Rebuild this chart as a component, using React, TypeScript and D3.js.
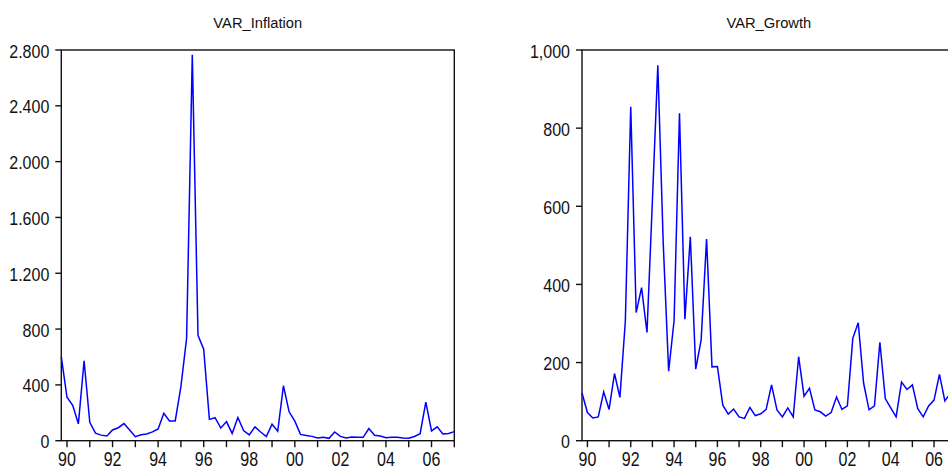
import * as d3 from "d3";
import * as React from "react";

// quarterly series, first observation 1989Q4
const startYear = 1989;
const startQuarter = 4;

const inflation = [
  600, 311, 253, 121, 573, 132, 54, 40, 34, 77, 93, 123, 76, 29, 43, 48, 63,
  84, 196, 142, 142, 387, 734, 2765, 755, 656, 153, 165, 91, 137, 52, 166, 73,
  42, 99, 62, 29, 118, 68, 394, 207, 140, 45, 38, 31, 19, 25, 17, 63, 31, 19,
  26, 24, 24, 87, 39, 33, 21, 24, 24, 19, 17, 30, 50, 277, 70, 99, 49, 52, 65,
];

const growth = [
  122, 72, 58, 61, 125, 80, 172, 111, 305, 855, 328, 392, 277, 615, 961, 505,
  178, 307, 838, 311, 522, 183, 258, 516, 189, 190, 91, 68, 81, 61, 57, 85, 64,
  69, 80, 143, 79, 61, 84, 61, 215, 114, 134, 79, 74, 63, 72, 112, 80, 89, 262,
  302, 147, 79, 89, 252, 108, 84, 61, 150, 131, 143, 82, 61, 89, 104, 170, 102,
  121, 110,
];

const yearTicks = d3.range(1990, 2008);
const inflationTicks = [0, 400, 800, 1200, 1600, 2000, 2400, 2800];
const growthTicks = [0, 200, 400, 600, 800, 1000];

const dotFormat = d3
  .formatLocale({ decimal: ",", thousands: ".", grouping: [3], currency: ["", ""] })
  .format(",");
const commaFormat = d3.format(",");

const font = "'Liberation Sans', Arial, Helvetica, sans-serif";

const quarterIndex = (year: number) =>
  (year - startYear) * 4 + (1 - startQuarter);

type PanelProps = {
  title: string;
  data: number[];
  yTicks: number[];
  format: (n: number) => string;
  left: number;
  right: number;
};

function Panel({ title, data, yTicks, format, left, right }: PanelProps) {
  const top = 50,
    bottom = 440.7;

  const x = d3
    .scaleLinear()
    .domain([0, data.length - 1])
    .range([left, right]);
  const y = d3
    .scaleLinear()
    .domain([0, yTicks[yTicks.length - 1]])
    .range([bottom, top]);

  const line = d3
    .line<number>()
    .x((d, i) => x(i))
    .y((d) => y(d));

  return (
    <g fontFamily={font} fill="#111">
      <text
        transform={`translate(${(left + right) / 2},27.7) scale(0.95,1)`}
        fontSize={15.5}
        textAnchor="middle"
      >
        {title}
      </text>
      <rect
        x={left}
        y={top}
        width={right - left}
        height={bottom - top}
        fill="none"
        stroke="#111"
        strokeWidth={1.4}
      />
      {yTicks.map((t) => (
        <g key={t}>
          <line
            x1={left - 6}
            x2={left}
            y1={y(t)}
            y2={y(t)}
            stroke="#111"
            strokeWidth={1.4}
          />
          <text
            transform={`translate(${left - 12},${y(t) + 7.6}) scale(0.915,1)`}
            fontSize={17.5}
            textAnchor="end"
          >
            {format(t)}
          </text>
        </g>
      ))}
      {yearTicks.map((yr) => {
        const xi = x(quarterIndex(yr));
        return (
          <g key={yr}>
            <line
              x1={xi}
              x2={xi}
              y1={bottom}
              y2={bottom + 6.5}
              stroke="#111"
              strokeWidth={1.4}
            />
            {yr % 2 === 0 && (
              <text
                transform={`translate(${xi},465.6) scale(0.8,1)`}
                fontSize={20}
                textAnchor="middle"
              >
                {String(yr).slice(2)}
              </text>
            )}
          </g>
        );
      })}
      <path
        d={line(data) || ""}
        fill="none"
        stroke="#0000ff"
        strokeWidth={1.5}
        strokeLinejoin="miter"
      />
    </g>
  );
}

export default function App() {
  return (
    <svg
      width={948}
      height={470}
      style={{ position: "absolute", left: 0, top: 0, background: "#fff" }}
    >
      <rect width={948} height={470} fill="#fff" />
      <Panel
        title="VAR_Inflation"
        data={inflation}
        yTicks={inflationTicks}
        format={dotFormat}
        left={61.3}
        right={454.3}
      />
      <Panel
        title="VAR_Growth"
        data={growth}
        yTicks={growthTicks}
        format={commaFormat}
        left={582}
        right={955.7}
      />
    </svg>
  );
}
